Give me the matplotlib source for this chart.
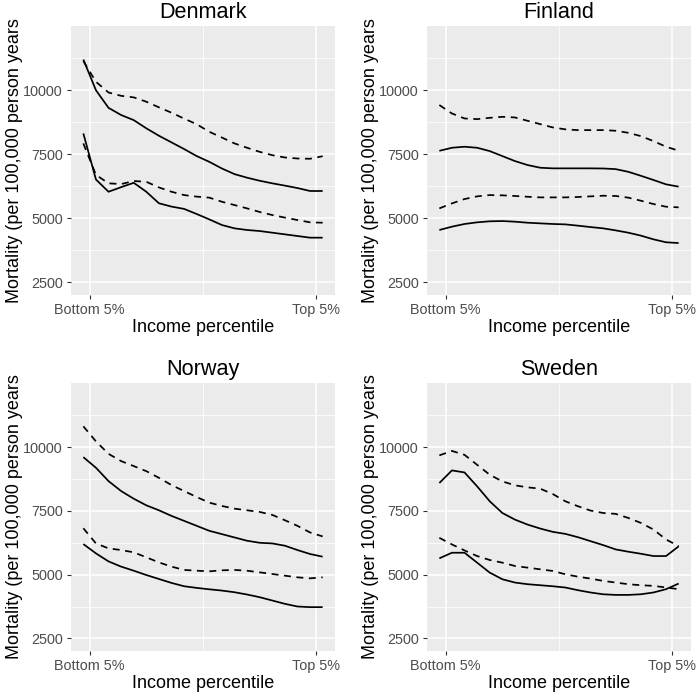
import numpy as np
import matplotlib.pyplot as plt

plt.rcParams['font.family'] = ['Liberation Sans', 'DejaVu Sans']

# ─── Data ────────────────────────────────────────────────────────────────────────
# income vingtile midpoints (percentile)
percentile = [2.5, 7.5, 12.5, 17.5, 22.5, 27.5, 32.5, 37.5, 42.5, 47.5,
              52.5, 57.5, 62.5, 67.5, 72.5, 77.5, 82.5, 87.5, 92.5, 97.5]

countries = ["Denmark", "Finland", "Norway", "Sweden"]

dk_solid_hi = [11210, 10010, 9320, 9040, 8840, 8520, 8230, 7970, 7710, 7435,
               7210, 6950, 6730, 6590, 6470, 6370, 6280, 6185, 6070, 6070]
dk_dash_hi = [11150, 10340, 9920, 9790, 9730, 9560, 9340, 9130, 8900, 8680,
              8385, 8160, 7930, 7760, 7600, 7470, 7380, 7340, 7330, 7430]
dk_solid_lo = [8320, 6520, 6040, 6220, 6390, 6040, 5590, 5460, 5370, 5170,
               4960, 4740, 4610, 4545, 4505, 4440, 4375, 4310, 4245, 4245]
dk_dash_lo = [7930, 6700, 6370, 6340, 6460, 6430, 6210, 6040, 5910, 5850,
              5810, 5650, 5520, 5390, 5250, 5130, 5030, 4935, 4845, 4830]

fi_solid_hi = [7640, 7760, 7800, 7760, 7630, 7435, 7240, 7085, 6980, 6955,
               6955, 6955, 6955, 6950, 6925, 6820, 6665, 6500, 6330, 6240]
fi_dash_hi = [9430, 9100, 8905, 8880, 8930, 8970, 8945, 8815, 8685, 8555,
              8480, 8450, 8450, 8450, 8425, 8345, 8215, 8020, 7800, 7645]
fi_solid_lo = [4545, 4675, 4780, 4845, 4885, 4895, 4870, 4830, 4805, 4780,
               4765, 4715, 4660, 4610, 4530, 4440, 4325, 4180, 4065, 4035]
fi_dash_lo = [5390, 5585, 5755, 5860, 5910, 5900, 5875, 5845, 5820, 5820,
              5820, 5835, 5860, 5885, 5875, 5810, 5690, 5560, 5455, 5430]

no_solid_hi = [9610, 9195, 8670, 8280, 7980, 7720, 7525, 7305, 7110, 6915,
               6720, 6590, 6460, 6330, 6250, 6225, 6135, 5965, 5810, 5705]
no_dash_hi = [10820, 10230, 9740, 9455, 9260, 9060, 8800, 8515, 8280, 8045,
              7825, 7695, 7590, 7525, 7460, 7345, 7135, 6915, 6655, 6500]
no_solid_lo = [6200, 5835, 5520, 5315, 5155, 4985, 4830, 4675, 4545, 4480,
               4425, 4375, 4310, 4220, 4115, 3985, 3855, 3750, 3725, 3725]
no_dash_lo = [6820, 6225, 6030, 5965, 5875, 5680, 5480, 5315, 5185, 5155,
              5130, 5170, 5185, 5155, 5090, 5025, 4960, 4895, 4855, 4895]

se_solid_hi = [8595, 9090, 9010, 8465, 7880, 7420, 7160, 6965, 6810, 6680,
               6600, 6470, 6315, 6160, 5990, 5900, 5820, 5730, 5730, 6110]
se_dash_hi = [9680, 9855, 9700, 9310, 8920, 8660, 8505, 8425, 8375, 8165,
              7880, 7685, 7515, 7420, 7385, 7225, 7030, 6770, 6380, 6120]
se_solid_lo = [5640, 5860, 5860, 5470, 5080, 4820, 4690, 4625, 4585, 4545,
               4495, 4390, 4300, 4230, 4205, 4205, 4230, 4300, 4430, 4650]
se_dash_lo = [6445, 6185, 5950, 5730, 5575, 5470, 5340, 5275, 5210, 5145,
              5015, 4920, 4845, 4755, 4690, 4625, 4585, 4560, 4495, 4430]

solid_series = [[dk_solid_hi, dk_solid_lo], [fi_solid_hi, fi_solid_lo],
                [no_solid_hi, no_solid_lo], [se_solid_hi, se_solid_lo]]
dashed_series = [[dk_dash_hi, dk_dash_lo], [fi_dash_hi, fi_dash_lo],
                 [no_dash_hi, no_dash_lo], [se_dash_hi, se_dash_lo]]

y_ticks = [2500, 5000, 7500, 10000]
y_minor = [3750, 6250, 8750, 11250]
x_ticks = [5, 95]
x_ticklabels = ["Bottom 5%", "Top 5%"]

# ─── Layout (pixel boxes of each panel in a 700x696 figure) ──────────────────────
W, H = 700, 696
boxes = [(71, 26, 335, 295), (427, 26, 691, 295),
         (71, 383, 335, 651), (427, 383, 691, 651)]

fig = plt.figure(figsize=(W / 100, H / 100), dpi=100, facecolor='white')

for name, (x0, y0, x1, y1), solids, dashes in zip(countries, boxes,
                                                  solid_series, dashed_series):
    ax = fig.add_axes([x0 / W, 1 - y1 / H, (x1 - x0) / W, (y1 - y0) / H])
    ax.set_facecolor('#EBEBEB')
    for s in ax.spines.values():
        s.set_visible(False)

    for ys in solids:
        ax.plot(percentile, ys, color='black', lw=1.25, solid_capstyle='butt')
    for ys in dashes:
        ax.plot(percentile, ys, color='black', lw=1.25, dashes=(4, 3.2))

    ax.set_xlim(-2.4, 102.4)
    ax.set_ylim(2004, 12520)
    ax.set_yticks(y_ticks)
    ax.set_yticks(y_minor, minor=True)
    ax.set_xticks(x_ticks)
    ax.set_xticklabels(x_ticklabels)
    ax.set_xticks([50], minor=True)

    ax.set_axisbelow(True)
    ax.grid(which='major', color='white', lw=1.1)
    ax.grid(which='minor', color='white', lw=0.55)
    ax.tick_params(which='major', length=3.2, width=0.8, color='#333333',
                   labelcolor='#4D4D4D', labelsize=10.4, pad=2.6)
    ax.tick_params(which='minor', length=0)

    ax.set_title(name, fontsize=15.6, pad=5.5)
    ax.set_xlabel("Income percentile", fontsize=13)
    ax.set_ylabel("Mortality (per 100,000 person years", fontsize=13)
    ax.xaxis.set_label_coords(0.5, -0.09)
    ax.yaxis.set_label_coords(-0.18, 0.5)

fig.savefig('out.png', dpi=100)
